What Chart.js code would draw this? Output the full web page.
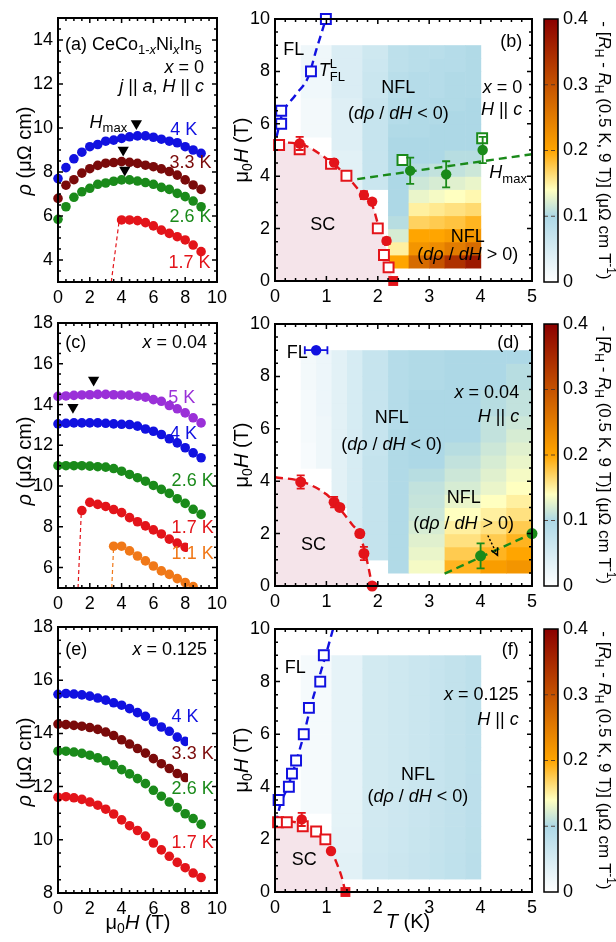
<!DOCTYPE html>
<html>
<head>
<meta charset="utf-8">
<script src="https://cdn.jsdelivr.net/npm/chart.js@4.4.1/dist/chart.umd.min.js"></script>
<style>
  body { margin: 0; background: #fff; }
  #fig { position: relative; width: 616px; height: 942px; overflow: hidden; background: #fff; }
  canvas { position: absolute; }
</style>
</head>
<body>
<div id="fig">
  <canvas id="pa" style="left:0;top:0" width="232" height="310"></canvas>
  <canvas id="pc" style="left:0;top:305px" width="232" height="310"></canvas>
  <canvas id="pe" style="left:0;top:610px" width="232" height="332"></canvas>
  <canvas id="pb" style="left:232px;top:0" width="310" height="310"></canvas>
  <canvas id="pd" style="left:232px;top:305px" width="310" height="310"></canvas>
  <canvas id="pf" style="left:232px;top:610px" width="310" height="332"></canvas>
  <canvas id="cb" style="left:536px;top:0" width="80" height="310"></canvas>
  <canvas id="cd" style="left:536px;top:305px" width="80" height="310"></canvas>
  <canvas id="cf" style="left:536px;top:610px" width="80" height="332"></canvas>
</div>
<script>
const FONT = '"Liberation Sans", Arial, Helvetica, sans-serif'

// ---- tick labels ----
const fieldTicks = [0, 2, 4, 6, 8, 10]
const tempTicks = [0, 1, 2, 3, 4, 5]
const hTicks = [0, 2, 4, 6, 8, 10]
const rhoTicksA = [4, 6, 8, 10, 12, 14]
const rhoTicksC = [6, 8, 10, 12, 14, 16, 18]
const rhoTicksE = [8, 10, 12, 14, 16, 18]
const cbarTicks = [0, 0.1, 0.2, 0.3, 0.4]

// ---- colour scale of the Hall map ----
const cmapStops = [0, 0.1, 0.14, 0.2, 0.4]
const cmapColors = ['#ffffff', '#add8e6', '#ffffc0', '#ffa500', '#8b0000']

// ---- (a) x = 0, rho(H) ----
const fieldA = [0, 0.5, 1, 1.5, 2, 2.5, 3, 3.5, 4, 4.5, 5, 5.5, 6, 6.5, 7, 7.5, 8, 8.5, 9]
const rhoA4K = [7.7, 8.2, 8.6, 8.9, 9.15, 9.25, 9.4, 9.45, 9.53, 9.6, 9.64, 9.64, 9.58, 9.49, 9.4, 9.33, 9.15, 9.0, 8.85]
const rhoA33K = [6.8, 7.4, 7.65, 7.95, 8.15, 8.3, 8.4, 8.43, 8.47, 8.44, 8.39, 8.31, 8.24, 8.14, 8.02, 7.86, 7.64, 7.41, 7.21]
const rhoA26K = [5.85, 6.42, 6.85, 7.1, 7.26, 7.44, 7.5, 7.58, 7.64, 7.64, 7.59, 7.52, 7.44, 7.3, 7.21, 7.03, 6.88, 6.68, 6.42]
const fieldA17 = [4, 4.5, 5, 5.5, 6, 6.5, 7, 7.5, 8, 8.5, 9]
const rhoA17K = [5.82, 5.82, 5.79, 5.7, 5.55, 5.36, 5.21, 5.06, 4.91, 4.68, 4.38]
const dropA17Field = [3.35, 3.85]
const dropA17Rho = [3.0, 5.8]
const maxA_field = [4.93, 4.1, 4.2]
const maxA_rho = [10.2, 9.0, 8.09]

// ---- (c) x = 0.04, rho(H) ----
const fieldC = [0, 0.5, 1, 1.5, 2, 2.5, 3, 3.5, 4, 4.5, 5, 5.5, 6, 6.5, 7, 7.5, 8, 8.5, 9]
const rhoC5K = [14.4, 14.42, 14.45, 14.47, 14.48, 14.5, 14.5, 14.48, 14.47, 14.46, 14.41, 14.36, 14.24, 14.16, 13.95, 13.79, 13.59, 13.35, 13.1]
const rhoC4K = [13.05, 13.08, 13.1, 13.1, 13.1, 13.1, 13.08, 13.05, 13.03, 13.02, 12.94, 12.8, 12.69, 12.53, 12.32, 12.12, 11.88, 11.63, 11.39]
const rhoC26K = [11.0, 11.0, 11.0, 11.0, 10.98, 10.95, 10.93, 10.86, 10.73, 10.57, 10.41, 10.24, 10.03, 9.84, 9.64, 9.38, 9.15, 8.86, 8.61]
const fieldC17 = [1.5, 2, 2.5, 3, 3.5, 4, 4.5, 5, 5.5, 6, 6.5, 7, 7.5, 8]
const rhoC17K = [8.8, 9.2, 9.1, 9.0, 8.85, 8.7, 8.45, 8.25, 8.05, 7.85, 7.65, 7.4, 7.2, 7.0]
const fieldC11 = [3.5, 4, 4.5, 5, 5.5, 6, 6.5, 7, 7.5, 8, 8.5]
const rhoC11K = [7.05, 7.05, 6.82, 6.57, 6.33, 6.08, 5.84, 5.67, 5.46, 5.27, 5.07]
const dropC17Field = [1.26, 1.47]
const dropC17Rho = [5.0, 8.8]
const dropC11Field = [3.38, 3.5]
const dropC11Rho = [5.0, 7.05]
const maxC_field = [2.24, 0.94]
const maxC_rho = [15.2, 13.87]

// ---- (e) x = 0.125, rho(H) ----
const fieldE = [0, 0.5, 1, 1.5, 2, 2.5, 3, 3.5, 4, 4.5, 5, 5.5, 6, 6.5, 7, 7.5, 8, 8.5, 9]
const rhoE4K = [15.47, 15.5, 15.48, 15.45, 15.4, 15.33, 15.25, 15.15, 15.06, 14.93, 14.78, 14.64, 14.43, 14.24, 14.08, 13.86, 13.7]
const rhoE33K = [14.35, 14.33, 14.3, 14.27, 14.22, 14.15, 14.05, 13.92, 13.76, 13.6, 13.43, 13.26, 13.05, 12.86, 12.68, 12.49, 12.34]
const rhoE26K = [13.33, 13.33, 13.3, 13.25, 13.18, 13.08, 12.97, 12.82, 12.64, 12.48, 12.3, 12.11, 11.86, 11.64, 11.42, 11.21, 10.98, 10.8, 10.58]
const rhoE17K = [11.6, 11.62, 11.58, 11.52, 11.42, 11.3, 11.15, 10.97, 10.75, 10.53, 10.35, 10.14, 9.88, 9.62, 9.38, 9.15, 8.95, 8.75, 8.58]

// ---- Hall map rows (field edges, T) ----
const heatRows = [0.5, 1, 1.5, 2, 2.5, 3, 3.5, 4, 4.5, 5, 5.5, 6, 6.5, 7, 7.5, 8, 8.5, 9]

// ---- (b) x = 0 phase diagram ----
const bHeatCols = [0.5, 1.1, 1.7, 2.2, 2.6, 3.0, 3.3, 3.7, 4.0]
const bHeat = [
  [null, null, null, null, null, null, null, null, null, null, 0.015, 0.015, 0.015, 0.018, 0.018, 0.02, 0.02],
  [null, null, null, null, null, 0.03, 0.035, 0.035, 0.035, 0.04, 0.04, 0.04, 0.04, 0.045, 0.045, 0.045, 0.045],
  [null, null, null, null, null, null, 0.065, 0.07, 0.07, 0.07, 0.07, 0.07, 0.068, 0.065, 0.065, 0.062, 0.06],
  [0.2, 0.15, 0.12, 0.105, 0.1, 0.1, 0.1, 0.1, 0.1, 0.1, 0.095, 0.09, 0.09, 0.085, 0.085, 0.08, 0.08],
  [0.27, 0.22, 0.2, 0.17, 0.15, 0.13, 0.115, 0.105, 0.1, 0.1, 0.095, 0.095, 0.09, 0.09, 0.09, 0.085, 0.085],
  [0.3, 0.23, 0.2, 0.175, 0.155, 0.135, 0.12, 0.11, 0.1, 0.1, 0.1, 0.095, 0.095, 0.09, 0.09, 0.09, 0.085],
  [0.34, 0.25, 0.21, 0.18, 0.16, 0.14, 0.125, 0.11, 0.105, 0.1, 0.1, 0.1, 0.095, 0.095, 0.095, 0.09, 0.09],
  [0.37, 0.27, 0.22, 0.19, 0.165, 0.145, 0.13, 0.115, 0.105, 0.1, 0.1, 0.1, 0.1, 0.095, 0.095, 0.095, 0.095],
]
const bFlT = [0.12, 0.12, 0.7, 0.99]
const bFlH = [6.0, 6.5, 8.0, 10.0]
const bFlLineT = [0.03, 0.13, 0.4, 0.65, 0.8, 0.99]
const bFlLineH = [5.5, 6.3, 7.1, 7.8, 8.8, 10.0]
const bScT = [0.48, 1.15, 1.73, 1.89, 2.17, 2.3]
const bScH = [5.25, 4.52, 3.28, 3.03, 1.53, 0]
const bScErr = [0.25, 0.1, 0.15, 0.1, 0.12, 0]
const bScSqT = [0.08, 0.48, 1.09, 1.39, 2.0, 2.12, 2.21]
const bScSqH = [5.19, 5.03, 4.47, 4.02, 2.01, 0.99, 0.52]
const bScLineT = [0, 0.5, 1.05, 1.4, 1.7, 1.9, 2.0, 2.13, 2.22, 2.29]
const bScLineH = [5.3, 5.22, 4.6, 4.0, 3.3, 2.85, 2.2, 1.5, 0.7, 0]
const bMaxT = [2.63, 3.33, 4.04]
const bMaxH = [4.21, 4.07, 5.0]
const bMaxErr = [0.5, 0.5, 0.5]
const bMaxSqT = [2.48, 4.03]
const bMaxSqH = [4.62, 5.45]
const bMaxLineT = [1.6, 5.0]
const bMaxLineH = [3.89, 4.84]

// ---- (d) x = 0.04 phase diagram ----
const dHeatCols = [0.5, 0.8, 1.1, 1.4, 1.7, 2.2, 2.6, 3.3, 4.0, 4.5, 5.0]
const dHeat = [
  [null, null, null, null, null, null, null, null, 0.01, 0.01, 0.012, 0.012, 0.012, 0.012, 0.015, 0.015, 0.015],
  [null, null, null, null, null, null, null, null, 0.02, 0.02, 0.02, 0.02, 0.022, 0.022, 0.022, 0.022, 0.022],
  [null, null, null, null, null, 0.035, 0.035, 0.035, 0.035, 0.035, 0.035, 0.035, 0.035, 0.035, 0.035, 0.035, 0.035],
  [null, 0.05, 0.05, 0.05, 0.05, 0.05, 0.05, 0.05, 0.05, 0.05, 0.05, 0.05, 0.05, 0.05, 0.05, 0.05, 0.05],
  [null, 0.072, 0.072, 0.072, 0.072, 0.072, 0.072, 0.072, 0.072, 0.07, 0.07, 0.07, 0.07, 0.07, 0.07, 0.07, 0.07],
  [0.095, 0.095, 0.095, 0.095, 0.095, 0.095, 0.095, 0.095, 0.095, 0.095, 0.095, 0.09, 0.09, 0.09, 0.09, 0.09, 0.09],
  [0.135, 0.13, 0.125, 0.12, 0.115, 0.112, 0.11, 0.105, 0.1, 0.1, 0.1, 0.1, 0.1, 0.1, 0.095, 0.095, 0.095],
  [0.19, 0.175, 0.16, 0.15, 0.14, 0.13, 0.12, 0.115, 0.11, 0.105, 0.1, 0.1, 0.1, 0.1, 0.1, 0.1, 0.1],
  [0.21, 0.19, 0.175, 0.16, 0.15, 0.14, 0.13, 0.125, 0.12, 0.115, 0.11, 0.11, 0.105, 0.105, 0.1, 0.1, 0.1],
  [0.22, 0.2, 0.19, 0.175, 0.16, 0.15, 0.14, 0.135, 0.13, 0.125, 0.12, 0.115, 0.11, 0.11, 0.105, 0.105, 0.1],
]
const dScT = [0.5, 1.15, 1.26, 1.65, 1.73, 1.89]
const dScH = [3.97, 3.2, 3.0, 2.0, 1.24, 0]
const dScErrH = [0.25, 0.2, 0.1, 0.12, 0.25, 0]
const dScErrT = [0, 0, 0, 0.06, 0, 0]
const dScLineT = [0, 0.5, 1.0, 1.15, 1.3, 1.5, 1.65, 1.75, 1.83, 1.89]
const dScLineH = [4.15, 4.0, 3.5, 3.2, 2.85, 2.35, 1.95, 1.3, 0.6, 0]
const dFlT = [0.8]
const dFlH = [9.0]
const dFlErrT = [0.22]
const dMaxT = [4.0, 5.0]
const dMaxH = [1.15, 2.0]
const dMaxErr = [0.48, 0]
const dMaxLineT = [3.3, 5.0]
const dMaxLineH = [0.47, 2.0]

// ---- (f) x = 0.125 phase diagram ----
const fHeatCols = [0.5, 1.1, 1.7, 2.2, 2.6, 3.0, 3.3, 3.7, 4.0]
const fHeat = [
  [null, null, null, null, null, 0.012, 0.012, 0.012, 0.012, 0.012, 0.012, 0.012, 0.012, 0.012, 0.012, 0.012, 0.012],
  [0.035, 0.035, 0.033, 0.033, 0.032, 0.032, 0.03, 0.03, 0.03, 0.03, 0.03, 0.03, 0.03, 0.03, 0.03, 0.03, 0.03],
  [0.058, 0.058, 0.057, 0.057, 0.056, 0.056, 0.055, 0.055, 0.055, 0.055, 0.055, 0.055, 0.055, 0.055, 0.055, 0.055, 0.055],
  [0.063, 0.063, 0.062, 0.062, 0.061, 0.061, 0.06, 0.06, 0.06, 0.06, 0.06, 0.06, 0.06, 0.06, 0.06, 0.06, 0.06],
  [0.068, 0.068, 0.067, 0.067, 0.066, 0.066, 0.065, 0.065, 0.065, 0.065, 0.065, 0.065, 0.065, 0.065, 0.065, 0.065, 0.065],
  [0.073, 0.073, 0.072, 0.072, 0.071, 0.071, 0.07, 0.07, 0.07, 0.07, 0.07, 0.07, 0.07, 0.07, 0.07, 0.07, 0.07],
  [0.078, 0.078, 0.077, 0.077, 0.076, 0.076, 0.075, 0.075, 0.075, 0.075, 0.075, 0.075, 0.075, 0.075, 0.075, 0.075, 0.075],
  [0.084, 0.084, 0.083, 0.083, 0.082, 0.082, 0.081, 0.081, 0.08, 0.08, 0.08, 0.08, 0.08, 0.08, 0.08, 0.08, 0.08],
]
const fFlT = [0.07, 0.27, 0.33, 0.41, 0.56, 0.66, 0.88, 0.95]
const fFlH = [3.5, 4.0, 4.5, 5.0, 6.0, 7.0, 8.0, 9.0]
const fFlLineT = [0.02, 0.1, 0.25, 0.4, 0.55, 0.7, 0.85, 1.0, 1.13]
const fFlLineH = [2.6, 3.3, 4.0, 4.9, 5.9, 7.1, 8.1, 9.1, 10.0]
const fScT = [0.52, 1.09, 1.37]
const fScH = [2.76, 1.56, 0]
const fScErr = [0.25, 0.06, 0]
const fScSqT = [0.06, 0.23, 0.54, 0.8, 0.98]
const fScSqH = [2.65, 2.65, 2.5, 2.3, 2.0]
const fScLineT = [0, 0.5, 0.8, 1.0, 1.1, 1.2, 1.3, 1.37]
const fScLineH = [2.75, 2.6, 2.3, 1.95, 1.55, 1.1, 0.55, 0]

// colours
const BLUE = '#1111e0', DRED = '#7a0a0a', GREEN = '#1a8a1a', RED = '#e3141a', PURPLE = '#9a30d8', ORANGE = '#f07818'
const PINK = '#f5e4ea'

// ---------- helpers ----------
function pts(xs, ys) { return xs.map((x, i) => ({ x, y: ys[i] })) }

function dots(xs, ys, color, extra) {
  return Object.assign({ data: pts(xs, ys), showLine: false, pointRadius: 4.8, pointBackgroundColor: color,
    pointBorderColor: color, pointBorderWidth: 0, clip: false }, extra || {})
}
function squares(xs, ys, color, extra) {
  return Object.assign({ data: pts(xs, ys), showLine: false, pointStyle: 'rect', pointRadius: 7, pointBackgroundColor: '#fff',
    pointBorderColor: color, pointBorderWidth: 2, clip: false }, extra || {})
}
function dashed(xs, ys, color, extra) {
  return Object.assign({ type: 'line', data: pts(xs, ys), borderColor: color, borderWidth: 2.4, borderDash: [8, 5],
    pointRadius: 0, fill: false, tension: 0.35, cubicInterpolationMode: 'monotone', clip: false }, extra || {})
}
function triangles(xs, ys) {
  return { data: pts(xs, ys), showLine: false, pointStyle: 'triangle', pointRotation: 180, pointRadius: 6.5,
    pointBackgroundColor: '#000', pointBorderColor: '#000', pointBorderWidth: 0, clip: false }
}
// the last marker of a few curves is cut off a little before the right frame
const cutRight = { left: false, top: false, bottom: false, right: -29 }

function hex(c) { return [1, 3, 5].map(i => parseInt(c.slice(i, i + 2), 16)) }
function cmap(v) {
  v = Math.max(cmapStops[0], Math.min(cmapStops[cmapStops.length - 1], v))
  for (let i = 1; i < cmapStops.length; i++) {
    if (v <= cmapStops[i]) {
      const t = (v - cmapStops[i - 1]) / (cmapStops[i] - cmapStops[i - 1])
      const a = hex(cmapColors[i - 1]), b = hex(cmapColors[i])
      return 'rgb(' + a.map((u, k) => Math.round(u + (b[k] - u) * t)).join(',') + ')'
    }
  }
  return cmapColors[cmapColors.length - 1]
}

// rich text: parts = [[text, style]], style letters: i italic, _ sub, ^ sup, < overlay on previous part
function richText(ctx, parts, x, y, o) {
  const size = o.s || 18
  const font = st => (st.includes('i') ? 'italic ' : '') + (/[_^]/.test(st) ? Math.round(size * 0.7) : size) + 'px ' + FONT
  let cur = 0, prevStart = 0
  const laid = parts.map(([t, st = '']) => {
    ctx.font = font(st)
    const w = ctx.measureText(t).width
    const start = st.includes('<') ? prevStart : cur
    prevStart = start
    cur = Math.max(cur, start + w)
    return { t, st, start }
  })
  const x0 = o.al === 'right' ? -cur : o.al === 'center' ? -cur / 2 : 0
  ctx.save()
  ctx.translate(x, y)
  if (o.rot) ctx.rotate(o.rot)
  ctx.fillStyle = o.c || '#000'
  ctx.textBaseline = 'middle'
  ctx.textAlign = 'left'
  laid.forEach(p => {
    ctx.font = font(p.st)
    const dy = p.st.includes('_') ? size * 0.32 : p.st.includes('^') ? -size * 0.36 : 0
    ctx.fillText(p.t, x0 + p.start, dy)
  })
  ctx.restore()
}

const extras = {}

const heatmapPlugin = {
  id: 'heatmap',
  beforeDatasetsDraw(chart) {
    const ex = extras[chart.canvas.id]
    if (!ex || !ex.heat) return
    const { ctx, scales: { x, y } } = chart
    const { cols, rows, values } = ex.heat
    ctx.save()
    values.forEach((col, i) => {
      const x0 = x.getPixelForValue(cols[i]), x1 = x.getPixelForValue(cols[i + 1])
      col.forEach((v, j) => {
        if (v == null) return
        const y0 = y.getPixelForValue(rows[j]), y1 = y.getPixelForValue(rows[j + 1])
        ctx.fillStyle = cmap(v)
        ctx.fillRect(x0, y1, x1 - x0 + 0.6, y0 - y1 + 0.6)
      })
    })
    ctx.restore()
  }
}

const errorBarPlugin = {
  id: 'errbars',
  afterDatasetsDraw(chart) {
    const { ctx, scales: { x, y } } = chart
    chart.data.datasets.forEach(ds => {
      if (!ds.errY && !ds.errX) return
      ctx.save()
      ctx.strokeStyle = ds.pointBorderColor
      ctx.lineWidth = 1.8
      ds.data.forEach((p, i) => {
        const px = x.getPixelForValue(p.x), py = y.getPixelForValue(p.y)
        const ey = ds.errY ? ds.errY[i] : 0, ex = ds.errX ? ds.errX[i] : 0
        ctx.beginPath()
        if (ey) {
          const a = y.getPixelForValue(p.y + ey), b = y.getPixelForValue(p.y - ey)
          ctx.moveTo(px, a); ctx.lineTo(px, b)
          ctx.moveTo(px - 4, a); ctx.lineTo(px + 4, a)
          ctx.moveTo(px - 4, b); ctx.lineTo(px + 4, b)
        }
        if (ex) {
          const a = x.getPixelForValue(p.x - ex), b = x.getPixelForValue(p.x + ex)
          ctx.moveTo(a, py); ctx.lineTo(b, py)
          ctx.moveTo(a, py - 4); ctx.lineTo(a, py + 4)
          ctx.moveTo(b, py - 4); ctx.lineTo(b, py + 4)
        }
        ctx.stroke()
      })
      ctx.restore()
    })
  }
}

const framePlugin = {
  id: 'frame',
  afterDatasetsDraw(chart) {
    const ex = extras[chart.canvas.id]
    if (!ex || !ex.frame) return
    const f = ex.frame
    const { ctx, chartArea: a, scales: { x, y } } = chart
    ctx.save()
    ctx.strokeStyle = '#000'
    ctx.lineWidth = 2
    ctx.strokeRect(a.left, a.top, a.right - a.left, a.bottom - a.top)
    ctx.lineWidth = 1.5
    ctx.beginPath()
    const nx = Math.round((x.max - x.min) / f.xMinor)
    for (let k = 0; k <= nx; k++) {
      const v = x.min + k * f.xMinor
      const len = Math.abs(v / f.xMajor - Math.round(v / f.xMajor)) < 1e-6 ? 5 : 3
      const p = x.getPixelForValue(v)
      ctx.moveTo(p, a.bottom); ctx.lineTo(p, a.bottom - len)
      ctx.moveTo(p, a.top); ctx.lineTo(p, a.top + len)
    }
    const ny = Math.round((y.max - y.min) / f.yMinor)
    for (let k = 0; k <= ny; k++) {
      const v = y.min + k * f.yMinor
      const len = Math.abs(v / f.yMajor - Math.round(v / f.yMajor)) < 1e-6 ? 5 : 3
      const p = y.getPixelForValue(v)
      ctx.moveTo(a.left, p); ctx.lineTo(a.left + len, p)
      ctx.moveTo(a.right, p); ctx.lineTo(a.right - len, p)
    }
    ctx.stroke()
    ctx.restore()
  }
}

const colorbarPlugin = {
  id: 'cbar',
  beforeDatasetsDraw(chart) {
    const ex = extras[chart.canvas.id]
    if (!ex || !ex.cbar) return
    const { ctx, chartArea: a, scales: { y } } = chart
    const y0 = y.getPixelForValue(y.min), y1 = y.getPixelForValue(y.max)
    const g = ctx.createLinearGradient(0, y0, 0, y1)
    cmapStops.forEach((s, i) => g.addColorStop((s - y.min) / (y.max - y.min), cmapColors[i]))
    ctx.save()
    ctx.fillStyle = g
    ctx.fillRect(a.left, y1, a.right - a.left, y0 - y1)
    ctx.strokeStyle = 'rgba(70,50,40,0.85)'
    ctx.lineWidth = 1.2
    ctx.setLineDash([4, 3])
    ctx.beginPath()
    cbarTicks.slice(1, -1).forEach(v => {
      const p = y.getPixelForValue(v)
      ctx.moveTo(a.left, p); ctx.lineTo(a.right, p)
    })
    ctx.stroke()
    ctx.setLineDash([])
    ctx.strokeStyle = '#000'
    ctx.lineWidth = 1.5
    ctx.strokeRect(a.left, y1, a.right - a.left, y0 - y1)
    ctx.restore()
  }
}

const notesPlugin = {
  id: 'notes',
  afterDraw(chart) {
    const ex = extras[chart.canvas.id]
    if (!ex || !ex.notes) return
    const { ctx, scales } = chart
    ex.notes.forEach(n => {
      if (n.arrow) {
        const [t0, h0, t1, h1] = n.arrow
        const ax = scales.x.getPixelForValue(t0), ay = scales.y.getPixelForValue(h0)
        const bx = scales.x.getPixelForValue(t1), by = scales.y.getPixelForValue(h1)
        ctx.save()
        ctx.strokeStyle = '#000'; ctx.lineWidth = 1.4
        ctx.setLineDash([2, 2])
        ctx.beginPath(); ctx.moveTo(ax, ay); ctx.lineTo(bx, by); ctx.stroke()
        ctx.setLineDash([])
        const ang = Math.atan2(by - ay, bx - ax)
        ctx.beginPath()
        ctx.moveTo(bx - 8 * Math.cos(ang - 0.45), by - 8 * Math.sin(ang - 0.45))
        ctx.lineTo(bx, by)
        ctx.lineTo(bx - 8 * Math.cos(ang + 0.45), by - 8 * Math.sin(ang + 0.45))
        ctx.stroke()
        ctx.restore()
        return
      }
      const px = n.px ? n.x : scales.x.getPixelForValue(n.x)
      const py = n.px ? n.y : scales.y.getPixelForValue(n.y)
      richText(ctx, n.t, px, py, n)
    })
  }
}

Chart.register(heatmapPlugin, framePlugin, errorBarPlugin, colorbarPlugin, notesPlugin)
Chart.defaults.font.family = FONT

function axis(min, max, ticks, extra) {
  return Object.assign({
    type: 'linear', min, max,
    grid: { display: false, drawTicks: false },
    border: { display: false },
    afterBuildTicks: s => { s.ticks = ticks.map(v => ({ value: v })) },
    ticks: { color: '#000', font: { family: FONT, size: 18 }, padding: 5, autoSkip: false, maxRotation: 0, callback: v => String(v) },
  }, extra)
}

function makePanel(id, o) {
  extras[id] = { heat: o.heat, frame: o.frame, notes: o.notes }
  return new Chart(document.getElementById(id), {
    type: 'scatter',
    data: { datasets: o.datasets },
    options: {
      responsive: false, animation: false, devicePixelRatio: 1, events: [],
      layout: { padding: { top: o.padTop, right: o.padRight, left: 0, bottom: 0 } },
      scales: {
        x: axis(o.x[0], o.x[1], o.xTicks, { afterFit: s => { s.height = o.xH } }),
        y: axis(o.y[0], o.y[1], o.yTicks, { afterFit: s => { s.width = o.yW } }),
      },
      plugins: { legend: { display: false }, tooltip: { enabled: false } },
    },
  })
}

function makeColorbar(id, padTop, padBottom, canvasH) {
  extras[id] = {
    cbar: true,
    notes: [{ t: cbarTitle, x: 68, y: padTop + (canvasH - padTop - padBottom) / 2, px: true, al: 'center', s: 17, rot: Math.PI / 2 }],
  }
  return new Chart(document.getElementById(id), {
    type: 'scatter',
    data: { datasets: [] },
    options: {
      responsive: false, animation: false, devicePixelRatio: 1, events: [],
      layout: { padding: { top: padTop, bottom: padBottom, left: 8, right: 0 } },
      scales: {
        x: { type: 'linear', display: false, min: 0, max: 1 },
        y: axis(0, 0.4, cbarTicks, { position: 'right', afterFit: s => { s.width = 58 } }),
      },
      plugins: { legend: { display: false }, tooltip: { enabled: false } },
    },
  })
}

// ---------- text ----------
const rhoTitle = [['ρ', 'i'], [' (μΩ cm)', '']]
const muHTitle = [['μ', ''], ['0', '_'], ['H', 'i'], [' (T)', '']]
const tTitle = [['T', 'i'], [' (K)', '']]
const dRhoNeg = [['(', ''], ['dρ', 'i'], [' / ', ''], ['dH', 'i'], [' < 0)', '']]
const dRhoPos = [['(', ''], ['dρ', 'i'], [' / ', ''], ['dH', 'i'], [' > 0)', '']]
const hParC = [['H', 'i'], [' || ', ''], ['c', 'i']]
const cbarTitle = [['- [', ''], ['R', 'i'], ['H', '_'], [' - ', ''], ['R', 'i'], ['H', '_'], [' (0.5 K, 9 T)] (μΩ cm T', ''], ['-1', '^'], [')', '']]
const xEq = v => [['x', 'i'], [' = ' + v, '']]
const plain = s => [[s, '']]

const leftFrame = { xMinor: 0.5, xMajor: 2, yMinor: 0.5, yMajor: 2 }
const rightFrame = { xMinor: 0.2, xMajor: 1, yMinor: 0.5, yMajor: 2 }

// ---------- (a) ----------
makePanel('pa', {
  x: [0, 10], y: [3, 15], xTicks: fieldTicks, yTicks: rhoTicksA,
  padTop: 18, padRight: 15, xH: 28, yW: 58, frame: leftFrame,
  datasets: [
    triangles(maxA_field, maxA_rho),
    dots(fieldA, rhoA4K, BLUE),
    dots(fieldA, rhoA33K, DRED),
    dots(fieldA, rhoA26K, GREEN),
    dots(fieldA17, rhoA17K, RED),
    dashed(dropA17Field, dropA17Rho, RED, { borderWidth: 1.2, borderDash: [4, 3], tension: 0 }),
  ],
  notes: [
    { t: [['(a) CeCo', ''], ['1-', '_'], ['x', '_i'], ['Ni', ''], ['x', '_i'], ['In', ''], ['5', '_']], x: 0.44, y: 13.77 },
    { t: xEq('0'), x: 9.18, y: 12.73, al: 'right' },
    { t: [['j', 'i'], [' || ', ''], ['a', 'i'], [', ', ''], ['H', 'i'], [' || ', ''], ['c', 'i']], x: 9.18, y: 11.86, al: 'right' },
    { t: [['H', 'i'], ['max', '_']], x: 4.35, y: 10.25, al: 'right' },
    { t: plain('4 K'), x: 8.76, y: 9.91, al: 'right', c: BLUE },
    { t: plain('3.3 K'), x: 9.66, y: 8.4, al: 'right', c: DRED },
    { t: plain('2.6 K'), x: 9.66, y: 5.97, al: 'right', c: GREEN },
    { t: plain('1.7 K'), x: 9.6, y: 3.85, al: 'right', c: RED },
    { t: rhoTitle, x: 25, y: 151, px: true, al: 'center', s: 20, rot: -Math.PI / 2 },
  ],
})

// ---------- (c) ----------
makePanel('pc', {
  x: [0, 10], y: [5, 18], xTicks: fieldTicks, yTicks: rhoTicksC,
  padTop: 18, padRight: 15, xH: 27, yW: 58, frame: leftFrame,
  datasets: [
    triangles(maxC_field, maxC_rho),
    dots(fieldC, rhoC5K, PURPLE),
    dots(fieldC, rhoC4K, BLUE),
    dots(fieldC, rhoC26K, GREEN),
    dots(fieldC17, rhoC17K, RED, { clip: cutRight }),
    dots(fieldC11, rhoC11K, ORANGE, { clip: { left: false, top: false, right: false, bottom: 0 } }),
    dashed(dropC17Field, dropC17Rho, RED, { borderWidth: 1.2, borderDash: [4, 3], tension: 0 }),
    dashed(dropC11Field, dropC11Rho, ORANGE, { borderWidth: 1.2, borderDash: [4, 3], tension: 0 }),
  ],
  notes: [
    { t: plain('(c)'), x: 0.46, y: 17.02 },
    { t: xEq('0.04'), x: 9.37, y: 17.02, al: 'right' },
    { t: plain('5 K'), x: 8.64, y: 14.33, al: 'right', c: PURPLE },
    { t: plain('4 K'), x: 8.74, y: 12.53, al: 'right', c: BLUE },
    { t: plain('2.6 K'), x: 9.79, y: 10.24, al: 'right', c: GREEN },
    { t: plain('1.7 K'), x: 9.79, y: 7.96, al: 'right', c: RED },
    { t: plain('1.1 K'), x: 9.79, y: 6.65, al: 'right', c: ORANGE },
    { t: rhoTitle, x: 25, y: 156, px: true, al: 'center', s: 20, rot: -Math.PI / 2 },
  ],
})

// ---------- (e) ----------
makePanel('pe', {
  x: [0, 10], y: [8, 18], xTicks: fieldTicks, yTicks: rhoTicksE,
  padTop: 17, padRight: 15, xH: 49, yW: 58, frame: leftFrame,
  datasets: [
    dots(fieldE.slice(0, rhoE4K.length), rhoE4K, BLUE, { clip: cutRight }),
    dots(fieldE.slice(0, rhoE33K.length), rhoE33K, DRED, { clip: cutRight }),
    dots(fieldE, rhoE26K, GREEN),
    dots(fieldE, rhoE17K, RED),
  ],
  notes: [
    { t: plain('(e)'), x: 0.46, y: 17.15 },
    { t: xEq('0.125'), x: 9.37, y: 17.15, al: 'right' },
    { t: plain('4 K'), x: 8.84, y: 14.62, al: 'right', c: BLUE },
    { t: plain('3.3 K'), x: 9.79, y: 13.21, al: 'right', c: DRED },
    { t: plain('2.6 K'), x: 9.79, y: 11.89, al: 'right', c: GREEN },
    { t: plain('1.7 K'), x: 9.79, y: 9.86, al: 'right', c: RED },
    { t: rhoTitle, x: 25, y: 152, px: true, al: 'center', s: 20, rot: -Math.PI / 2 },
    { t: muHTitle, x: 138, y: 313, px: true, al: 'center', s: 20 },
  ],
})

// ---------- (b) ----------
makePanel('pb', {
  x: [0, 5], y: [0, 10], xTicks: tempTicks, yTicks: hTicks,
  padTop: 19, padRight: 5, xH: 29, yW: 43, frame: rightFrame,
  heat: { cols: bHeatCols, rows: heatRows, values: bHeat },
  datasets: [
    dots(bMaxT, bMaxH, GREEN, { pointRadius: 5.2, errY: bMaxErr }),
    squares(bMaxSqT, bMaxSqH, GREEN),
    dots(bScT, bScH, RED, { pointRadius: [5.2, 5.2, 5.2, 5.2, 5.2, 7], pointStyle: ['circle', 'circle', 'circle', 'circle', 'circle', 'rect'], errY: bScErr }),
    squares(bScSqT, bScSqH, RED),
    squares(bFlT, bFlH, BLUE),
    dashed(bMaxLineT, bMaxLineH, GREEN, { tension: 0 }),
    dashed(bFlLineT, bFlLineH, BLUE),
    dashed(bScLineT, bScLineH, RED, { fill: 'origin', backgroundColor: PINK }),
  ],
  notes: [
    { t: plain('FL'), x: 0.16, y: 8.82 },
    { t: [['T', 'i'], ['L', '^'], ['FL', '_<']], x: 0.85, y: 8.0 },
    { t: plain('NFL'), x: 2.4, y: 7.35, al: 'center' },
    { t: dRhoNeg, x: 2.4, y: 6.37, al: 'center' },
    { t: xEq('0'), x: 4.81, y: 7.35, al: 'right' },
    { t: hParC, x: 4.81, y: 6.53, al: 'right' },
    { t: [['H', 'i'], ['max', '_']], x: 4.17, y: 4.11 },
    { t: plain('SC'), x: 0.93, y: 2.14, al: 'center' },
    { t: plain('NFL'), x: 3.75, y: 1.69, al: 'center' },
    { t: dRhoPos, x: 3.75, y: 0.99, al: 'center' },
    { t: plain('(b)'), x: 4.81, y: 9.13, al: 'right' },
    { t: muHTitle, x: 10, y: 150, px: true, al: 'center', s: 20, rot: -Math.PI / 2 },
  ],
})

// ---------- (d) ----------
makePanel('pd', {
  x: [0, 5], y: [0, 10], xTicks: tempTicks, yTicks: hTicks,
  padTop: 19, padRight: 5, xH: 29, yW: 43, frame: rightFrame,
  heat: { cols: dHeatCols, rows: heatRows, values: dHeat },
  datasets: [
    dots(dMaxT, dMaxH, GREEN, { pointRadius: 5.5, errY: dMaxErr }),
    dots(dScT, dScH, RED, { pointRadius: 5.5, errY: dScErrH, errX: dScErrT }),
    dots(dFlT, dFlH, BLUE, { pointRadius: 5.2, errX: dFlErrT }),
    dashed(dMaxLineT, dMaxLineH, GREEN, { tension: 0 }),
    dashed(dScLineT, dScLineH, RED, { fill: 'origin', backgroundColor: PINK }),
  ],
  notes: [
    { t: plain('FL'), x: 0.23, y: 8.88 },
    { t: plain('(d)'), x: 4.75, y: 9.26, al: 'right' },
    { t: xEq('0.04'), x: 4.75, y: 7.37, al: 'right' },
    { t: hParC, x: 4.75, y: 6.46, al: 'right' },
    { t: plain('NFL'), x: 2.27, y: 6.4, al: 'center' },
    { t: dRhoNeg, x: 2.27, y: 5.38, al: 'center' },
    { t: plain('NFL'), x: 3.67, y: 3.34, al: 'center' },
    { t: dRhoPos, x: 3.67, y: 2.36, al: 'center' },
    { t: plain('SC'), x: 0.75, y: 1.56, al: 'center' },
    { arrow: [4.14, 1.93, 4.33, 1.17] },
    { t: muHTitle, x: 10, y: 150, px: true, al: 'center', s: 20, rot: -Math.PI / 2 },
  ],
})

// ---------- (f) ----------
makePanel('pf', {
  x: [0, 5], y: [0, 10], xTicks: tempTicks, yTicks: hTicks,
  padTop: 19, padRight: 5, xH: 50, yW: 43, frame: rightFrame,
  heat: { cols: fHeatCols, rows: heatRows, values: fHeat },
  datasets: [
    dots(fScT, fScH, RED, { pointRadius: [5.2, 5.2, 7], pointStyle: ['circle', 'circle', 'rect'], errY: fScErr }),
    squares(fScSqT, fScSqH, RED),
    squares(fFlT, fFlH, BLUE),
    dashed(fFlLineT, fFlLineH, BLUE),
    dashed(fScLineT, fScLineH, RED, { fill: 'origin', backgroundColor: PINK }),
  ],
  notes: [
    { t: plain('FL'), x: 0.19, y: 8.51 },
    { t: plain('(f)'), x: 4.74, y: 9.21, al: 'right' },
    { t: xEq('0.125'), x: 4.74, y: 7.5, al: 'right' },
    { t: hParC, x: 4.74, y: 6.54, al: 'right' },
    { t: plain('NFL'), x: 2.78, y: 4.45, al: 'center' },
    { t: dRhoNeg, x: 2.78, y: 3.62, al: 'center' },
    { t: plain('SC'), x: 0.57, y: 1.21, al: 'center' },
    { t: muHTitle, x: 10, y: 150, px: true, al: 'center', s: 20, rot: -Math.PI / 2 },
    { t: tTitle, x: 176, y: 312, px: true, al: 'center', s: 20 },
  ],
})

// ---------- colour bars ----------
makeColorbar('cb', 19, 28, 310)
makeColorbar('cd', 19, 29, 310)
makeColorbar('cf', 19, 50, 332)
</script>
</body>
</html>
